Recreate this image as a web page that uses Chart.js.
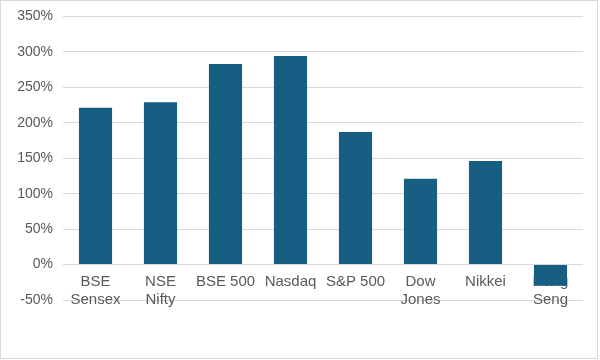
<!DOCTYPE html>
<html>
<head>
<meta charset="utf-8">
<script src="https://cdn.jsdelivr.net/npm/chart.js@4.4.0/dist/chart.umd.min.js"></script>
<style>
  html, body { margin: 0; padding: 0; background: #fff; }
  #wrap { position: relative; width: 598px; height: 359px; border: 1px solid #d9d9d9; box-sizing: border-box; overflow: hidden; }
  #box { position: absolute; left: 0; top: -3px; width: 596px; height: 359px; }
</style>
</head>
<body>
<div id="wrap"><div id="box"><canvas id="chart"></canvas></div></div>
<script>
// index returns, percent
const categories = [['BSE', 'Sensex'], ['NSE', 'Nifty'], 'BSE 500', 'Nasdaq', 'S&P 500', ['Dow', 'Jones'], 'Nikkei', ['Hang', 'Seng']];
const returns = [221, 229, 283, 294, 187, 121, 146, -30];
const yTicks = [-50, 0, 50, 100, 150, 200, 250, 300, 350];

const ctx = document.getElementById('chart');

new Chart(ctx, {
  type: 'bar',
  data: {
    labels: categories,
    datasets: [{
      data: returns,
      backgroundColor: '#175f82',
      categoryPercentage: 1,
      barPercentage: 0.51
    }]
  },
  options: {
    responsive: true,
    maintainAspectRatio: false,
    animation: false,
    layout: {
      padding: { top: 9, right: 14, bottom: 57, left: 0 }
    },
    plugins: {
      legend: { display: false },
      tooltip: { enabled: false }
    },
    scales: {
      x: {
        position: { y: 0 },
        grid: { display: false },
        border: { display: false },
        ticks: {
          color: '#595959',
          font: { family: 'Liberation Sans', size: 15, lineHeight: 1.22 },
          padding: 0,
          maxRotation: 0,
          autoSkip: false
        }
      },
      y: {
        min: yTicks[0],
        max: yTicks[yTicks.length - 1],
        afterFit: function(scale) { scale.width = 62; },
        afterBuildTicks: function(scale) {
          scale.ticks = yTicks.map(v => ({ value: v }));
        },
        grid: { color: '#d9d9d9', lineWidth: 1, drawTicks: false },
        border: { display: false },
        ticks: {
          color: '#595959',
          font: { family: 'Liberation Sans', size: 14 },
          padding: 10,
          callback: function(v) { return v + '%'; }
        }
      }
    }
  }
});
</script>
</body>
</html>
